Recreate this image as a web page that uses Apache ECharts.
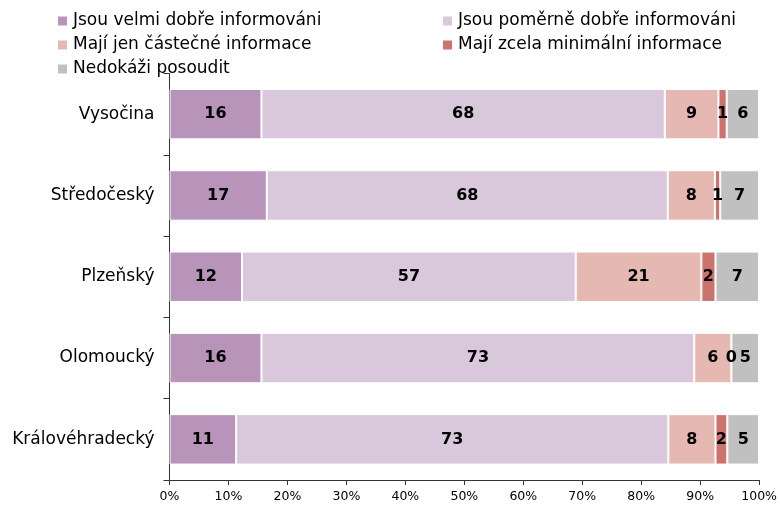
<!DOCTYPE html>
<html>
<head>
<meta charset="utf-8">
<script src="https://cdn.jsdelivr.net/npm/echarts@6/dist/echarts.min.js"></script>
<style>
    html, body { margin: 0; padding: 0; background: #fff; }
    #chart { width: 780px; height: 506px; }
</style>
</head>
<body>
<div id="chart"></div>
<script>
// kraje (shora dolu)
var regions = ['Vysočina', 'Středočeský', 'Plzeňský', 'Olomoucký', 'Královéhradecký'];
var seriesNames = [
    'Jsou velmi dobře informováni',
    'Jsou poměrně dobře informováni',
    'Mají jen částečné informace',
    'Mají zcela minimální informace',
    'Nedokáži posoudit'
];
var colors = ['#b894bb', '#d9c7dc', '#e6b8b2', '#cc736e', '#c0c0c0'];

// podily v %
var velmiDobre = [15.6, 16.5, 12.3, 15.6, 11.3];
var pomerneDobre = [68.4, 68.0, 56.6, 73.4, 73.3];
var castecne = [9.1, 8.0, 21.3, 6.3, 8.0];
var minimalni = [1.4, 0.9, 2.4, 0, 2.0];
var neposoudi = [5.5, 6.6, 7.4, 4.7, 5.4];

var xTicks = [0, 10, 20, 30, 40, 50, 60, 70, 80, 90, 100];

var FONT = '"DejaVu Sans", Verdana, sans-serif';
var chart = echarts.init(document.getElementById('chart'));

var values = [velmiDobre, pomerneDobre, castecne, minimalni, neposoudi];
var series = values.map(function (arr, i) {
    return {
        name: seriesNames[i],
        type: 'bar',
        stack: 'total',
        barCategoryGap: '38%',
        data: arr,
        itemStyle: {color: colors[i], borderColor: '#fff', borderWidth: 1},
        label: {
            show: true,
            position: 'inside',
            color: '#000',
            fontFamily: FONT,
            fontWeight: 'bold',
            fontSize: 16,
            formatter: function (p) { return Math.round(p.value); }
        }
    };
});

var legendBase = {
    orient: 'vertical',
    top: 12.5,
    padding: 0,
    itemGap: 7,
    itemWidth: 11,
    itemHeight: 11,
    icon: 'rect',
    textStyle: {fontFamily: FONT, fontSize: 17, lineHeight: 17, color: '#000'}
};

var option = {
    animation: false,
    textStyle: {fontFamily: FONT},
    legend: [
        Object.assign({}, legendBase, {left: 56, data: [seriesNames[0], seriesNames[2], seriesNames[4]]}),
        Object.assign({}, legendBase, {left: 441, data: [seriesNames[1], seriesNames[3]]})
    ],
    grid: {left: 169.5, right: 19.5, top: 73.5, bottom: 26, containLabel: false},
    xAxis: {
        type: 'value',
        min: xTicks[0],
        max: xTicks[xTicks.length - 1],
        interval: 10,
        splitLine: {show: false},
        axisLine: {show: true, lineStyle: {color: '#333'}},
        axisTick: {show: true, length: 5, lineStyle: {color: '#333'}},
        axisLabel: {color: '#000', fontSize: 12.5, fontFamily: FONT, margin: 10, formatter: '{value}%'}
    },
    yAxis: {
        type: 'category',
        inverse: true,
        data: regions,
        axisLine: {show: true, lineStyle: {color: '#333'}},
        axisTick: {show: true, length: 6, lineStyle: {color: '#333'}},
        axisLabel: {color: '#000', fontSize: 17, fontFamily: FONT, margin: 15}
    },
    series: series
};

chart.setOption(option);
</script>
</body>
</html>
